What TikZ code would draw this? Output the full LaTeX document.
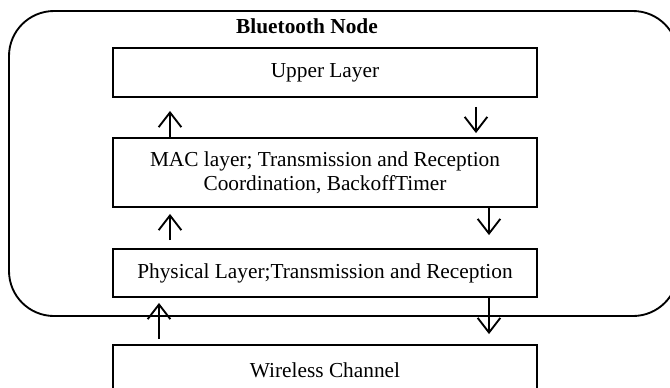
\documentclass[tikz,border=0pt]{standalone}
\usepackage{fontspec}
\setmainfont{Liberation Serif}
\usetikzlibrary{arrows.meta}

\begin{document}
\begin{tikzpicture}
[x=0.75pt,y=-0.75pt,%
  layerDecorate/.style={shape=rectangle,draw,line width=1.4pt,minimum width=318pt,
    inner sep=2pt,align=center,font=\fontsize{16}{18}\selectfont},
  arrowDecorate/.style={line width=1.4pt,-{Straight Barb[length=11pt,width=17pt,line width=1.4pt]}},
  nodeFrame/.style={draw,line width=1.4pt,rounded corners=33.75pt}]
\useasboundingbox (0,0) rectangle (670,387);
%% outer frame of the node
\draw[nodeFrame] (9,11) rectangle (678,316);
\node (title) at (307,26.5) {\fontsize{16}{18}\selectfont\bfseries Bluetooth Node};
%% layers
\node (upper) at (325,72.5) [layerDecorate,minimum height=36.75pt] {Upper Layer};
\node (mac) at (325,172.5) [layerDecorate,minimum height=51.75pt]
  {MAC layer; Transmission and Reception\\Coordination, BackoffTimer};
\node (phys) at (325,273) [layerDecorate,minimum height=36pt]
  {Physical Layer;Transmission and Reception};
\node (chan) at (325,370) [layerDecorate,minimum height=37.5pt] {Wireless Channel};
%% arrows between layers
\foreach \src/\dst/\x/\sa/\sb in {
  mac.north/upper.south/170/0/9.75,
  upper.south/mac.north/476/6.75/3,
  phys.north/mac.south/170/6/4.5,
  mac.south/phys.north/489/0/9.75,
  chan.north/phys.south/159/3.75/3.75,
  phys.south/chan.north/489/0/7.5}
{
  \draw[arrowDecorate,shorten <=\sa pt,shorten >=\sb pt] (\x,0 |- \src) -- (\x,0 |- \dst);
}
\end{tikzpicture}
\end{document}
